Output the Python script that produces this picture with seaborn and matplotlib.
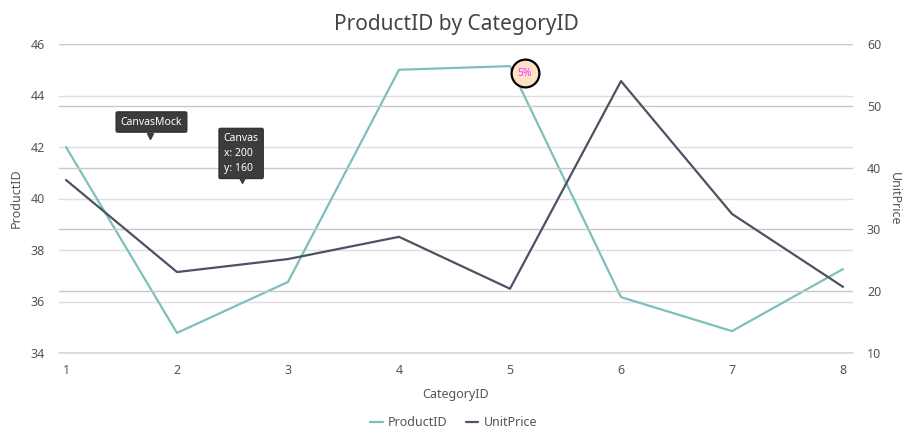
import seaborn as sns
import matplotlib.pyplot as plt
import pandas as pd

# chart data
category_ids = [1, 2, 3, 4, 5, 6, 7, 8]
product_ids = [42.0, 34.78, 36.76, 45.0, 45.14, 36.17, 34.85, 37.26]
unit_prices = [38.0, 23.1, 25.2, 28.8, 20.4, 54.0, 32.5, 20.7]

df = pd.DataFrame({'CategoryID': category_ids, 'ProductID': product_ids, 'UnitPrice': unit_prices})

sns.set_theme(style='white')
plt.rcParams['font.family'] = ['Noto Sans', 'DejaVu Sans']

teal = '#7dbfbc'
slate = '#4a5263'
tick_col = '#555555'

fig, ax = plt.subplots(figsize=(9.07, 4.38), dpi=100)
fig.subplots_adjust(left=59/907, right=853/907, top=1-44/438, bottom=1-353/438)
ax2 = ax.twinx()

sns.lineplot(data=df, x='CategoryID', y='ProductID', ax=ax, color=teal, linewidth=1.6, label='ProductID', legend=False)
sns.lineplot(data=df, x='CategoryID', y='UnitPrice', ax=ax2, color=slate, linewidth=1.6, label='UnitPrice', legend=False)

ax.set_xlim(0.937, 8.09)
ax.set_ylim(34, 46)
ax2.set_ylim(10, 60)
ax.set_yticks([34, 36, 38, 40, 42, 44, 46])
ax2.set_yticks([10, 20, 30, 40, 50, 60])
ax.set_xticks(category_ids)

ax.grid(axis='y', color='#dedede', linewidth=1)
ax2.grid(axis='y', color='#c8c8c8', linewidth=1)
ax.set_axisbelow(True)
ax2.set_axisbelow(True)

for a in (ax, ax2):
    for s in ('top', 'left', 'right', 'bottom'):
        a.spines[s].set_visible(False)
ax.spines['bottom'].set_visible(True)
ax.spines['bottom'].set_color('#d5d9e4')

ax.tick_params(axis='x', length=5, color='#d5d9e4', labelsize=9, labelcolor=tick_col, pad=3)
ax.tick_params(axis='y', length=0, labelsize=9, labelcolor=tick_col, pad=10)
ax2.tick_params(axis='y', length=0, labelsize=9, labelcolor=tick_col, pad=10)

ax.set_xlabel('CategoryID', fontsize=9, color=tick_col, labelpad=8)
ax.set_ylabel('ProductID', fontsize=9, color=tick_col, labelpad=6)
ax2.set_ylabel('UnitPrice', fontsize=9, color=tick_col, rotation=270, labelpad=14)
ax.set_title('ProductID by CategoryID', fontsize=15, color='#444444', pad=10)

# tooltips and highlight, drawn on the top axes but in left-axis units
tr = ax.transData
tip = dict(boxstyle='round,pad=0.45,rounding_size=0.15', fc='#3c3c3c', ec='#2a2a2a', lw=0.8)
ax2.text(1.77, 42.97, 'CanvasMock', fontsize=7.5, color='white', ha='center', va='center', bbox=tip,
         zorder=6, transform=tr)
ax2.plot([1.757], [42.42], marker='v', color='#3c3c3c', markersize=5, zorder=6, transform=tr)
ax2.text(2.42, 41.75, 'Canvas\nx: 200\ny: 160', fontsize=7.5, color='white', ha='left', va='center',
         linespacing=1.5, bbox=tip, zorder=6, transform=tr)
ax2.plot([2.586], [40.72], marker='v', color='#3c3c3c', markersize=5, zorder=6, transform=tr)

ax2.plot([5.135], [44.87], marker='o', markersize=20, markerfacecolor='#fde1c5', markeredgecolor='black',
         markeredgewidth=1.6, zorder=7, transform=tr)
ax2.text(5.135, 44.84, '5%', fontsize=7.5, color='#ff33ff', fontweight='bold', ha='center', va='center',
         zorder=8, transform=tr)

h1, l1 = ax.get_legend_handles_labels()
h2, l2 = ax2.get_legend_handles_labels()
fig.legend(h1 + h2, l1 + l2, loc='center', bbox_to_anchor=(0.5, 1-423/438), ncol=2, frameon=False,
           fontsize=9, handlelength=1.0, handletextpad=0.4, columnspacing=1.5, labelcolor=tick_col)

plt.savefig('out.png', dpi=100)
